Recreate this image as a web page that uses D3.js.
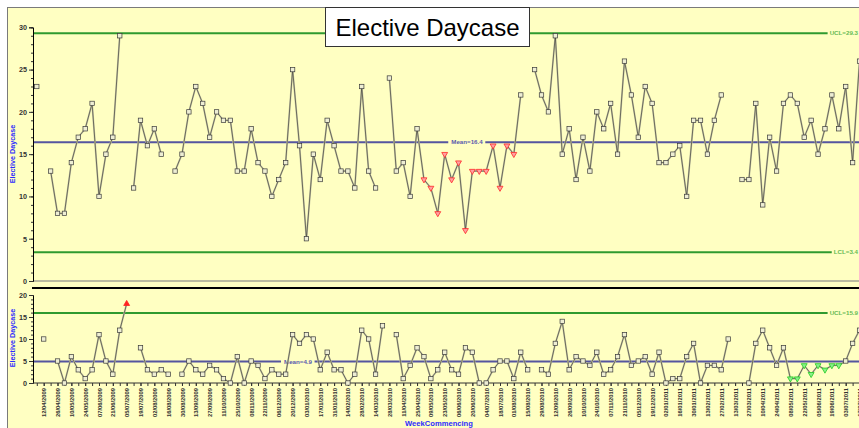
<!DOCTYPE html>
<html>
<head>
<meta charset="utf-8">
<script src="https://cdn.jsdelivr.net/npm/d3@7.9.0/dist/d3.min.js"></script>
<style>
  body { margin: 0; background: #fff; }
  svg { display: block; font-family: "Liberation Sans", Arial, sans-serif; }
</style>
</head>
<body>
<svg id="chart" width="859" height="428"></svg>
<script>
// weeks run from -1 (one week before the first label) to 118
const firstWeek = -1;

// weekly elective daycase counts (null = no data that week)
const dayCases = [23, null, 13, 8, 8, 14, 17, 18, 21, 10, 15, 17, 29, null, 11, 19, 16, 18, 15, null,
  13, 15, 20, 23, 21, 17, 20, 19, 19, 13, 13, 18, 14, 13, 10, 12, 14, 25, 16, 5,
  15, 12, 19, 16, 13, 13, 11, 23, 13, 11, null, 24, 13, 14, 10, 18, 12, 11, 8, 15,
  12, 14, 6, 13, 13, 13, 16, 11, 16, 15, 22, null, 25, 22, 20, 29, 15, 18, 12, 17,
  13, 20, 18, 21, 15, 26, 22, 17, 23, 21, 14, 14, 15, 16, 10, 19, 19, 15, 19, 22,
  null, null, 12, 12, 21, 9, 17, 13, 21, 22, 21, 17, 19, 15, 18, 22, 18, 23, 14, 26];

// moving range chart
const movingRange = [null, 10, null, 5, 0, 6, 3, 1, 3, 11, 5, 2, 12, 18, null, 8, 3, 2, 3, 2,
  null, 2, 5, 3, 2, 4, 3, 1, 0, 6, 0, 5, 4, 1, 3, 2, 2, 11, 9, 11,
  10, 3, 7, 3, 3, 0, 2, 12, 10, 2, 13, null, 11, 1, 4, 8, 6, 1, 3, 7,
  3, 2, 8, 7, 0, 0, 3, 5, 5, 1, 7, 3, null, 3, 2, 9, 14, 3, 6, 5,
  4, 7, 2, 3, 6, 11, 4, 5, 6, 2, 7, 0, 1, 1, 6, 9, 0, 4, 4, 3,
  10, null, null, 0, 9, 12, 8, 4, 8, 1, 1, 4, 2, 4, 3, 4, 4, 5, 9, 12];

// control limits
const topLimits = { mean: 16.4, ucl: 29.3, lcl: 3.4 };
const bottomLimits = { mean: 4.9, ucl: 15.9 };

// flagged weeks
const topRunBelow = [55, 68];      // run below mean (red)
const bottomAboveUcl = [12];       // above UCL (red)
const bottomRunBelow = [108, 115]; // run below mean (green)

// tick labels every second week, starting at week 0
const weekLabels = ["12/04/2009", "26/04/2009", "10/05/2009", "24/05/2009", "07/06/2009", "21/06/2009",
  "05/07/2009", "19/07/2009", "02/08/2009", "16/08/2009", "30/08/2009", "13/09/2009", "27/09/2009",
  "11/10/2009", "25/10/2009", "08/11/2009", "22/11/2009", "06/12/2009", "20/12/2009", "03/01/2010",
  "17/01/2010", "31/01/2010", "14/02/2010", "28/02/2010", "14/03/2010", "28/03/2010", "11/04/2010",
  "25/04/2010", "09/05/2010", "23/05/2010", "06/06/2010", "20/06/2010", "04/07/2010", "18/07/2010",
  "01/08/2010", "15/08/2010", "29/08/2010", "12/09/2010", "26/09/2010", "10/10/2010", "24/10/2010",
  "07/11/2010", "21/11/2010", "05/12/2010", "19/12/2010", "02/01/2011", "16/01/2011", "30/01/2011",
  "13/02/2011", "27/02/2011", "13/03/2011", "27/03/2011", "10/04/2011", "24/04/2011", "08/05/2011",
  "22/05/2011", "05/06/2011", "19/06/2011", "03/07/2011", "17/07/2011"];

const svg = d3.select("#chart");
const W = 859;
const plotLeft = 33;

// frame
svg.append("rect").attr("x", 7.5).attr("y", 7.5).attr("width", 900).attr("height", 500)
  .attr("fill", "#ffffc2").attr("stroke", "#7a7a7a");

const x = d3.scaleLinear().domain([0, 116]).range([43.7, 845.7]);
const yTop = d3.scaleLinear().domain([0, 30]).range([281, 27.3]);
const yBot = d3.scaleLinear().domain([0, 20]).range([383, 295]);

const toPoints = arr => arr.map((v, i) => ({ week: i + firstWeek, v }));
const topData = toPoints(dayCases);
const botData = toPoints(movingRange);

function yAxis(scale, majors, maxV) {
  const g = svg.append("g").attr("transform", `translate(${plotLeft},0)`);
  g.append("g").call(d3.axisLeft(scale).tickValues(d3.range(0, maxV + 1)).tickSize(2).tickFormat(""))
    .call(s => s.select(".domain").remove());
  g.append("g").call(d3.axisLeft(scale).tickValues(majors).tickSize(4).tickPadding(2))
    .call(s => s.select(".domain").attr("stroke", "#000"));
  g.selectAll("line").attr("stroke", "#333");
  g.selectAll("text").attr("font-size", 7.2).attr("font-weight", "bold").attr("fill", "#333")
    .attr("font-family", "Liberation Sans, Arial, sans-serif");
}

function limitLine(yv, scale, color, textColor, label, labelX, anchor) {
  const yy = scale(yv);
  const t = svg.append("text").attr("x", labelX).attr("y", yy).attr("dy", "0.35em")
    .attr("text-anchor", anchor).attr("font-size", 6.2).attr("font-weight", "bold")
    .attr("fill", textColor).text(label);
  const bb = t.node().getBBox();
  const segs = anchor === "end"
    ? [[plotLeft, bb.x - 2]]
    : [[plotLeft, bb.x - 3], [bb.x + bb.width + 2, W + 20]];
  segs.forEach(([a, b]) => {
    svg.insert("line", "text").attr("x1", a).attr("x2", b).attr("y1", yy).attr("y2", yy)
      .attr("stroke", color).attr("stroke-width", 2);
  });
}

function series(data, scale) {
  const line = d3.line().defined(d => d.v != null).x(d => x(d.week)).y(d => scale(d.v));
  svg.append("path").datum(data).attr("d", line).attr("fill", "none")
    .attr("stroke", "#c9c9a6").attr("stroke-width", 1.8);
  svg.append("path").datum(data).attr("d", line).attr("fill", "none")
    .attr("stroke", "#2a2a2a").attr("stroke-width", 0.6);
}

function markers(data, scale, flagFn) {
  const pts = data.filter(d => d.v != null);
  pts.forEach(d => {
    const f = flagFn(d.week);
    const px = x(d.week), py = scale(d.v);
    if (!f) {
      svg.append("rect").attr("x", px - 2.2).attr("y", py - 2.2).attr("width", 4.4).attr("height", 4.4)
        .attr("fill", "#eeeed4").attr("stroke", "#3a3a3a").attr("stroke-width", 0.7);
    } else {
      svg.append("path").attr("d", d3.symbol(d3.symbolTriangle).size(15)())
        .attr("transform", `translate(${px},${py}) rotate(${f.up ? 0 : 180})`)
        .attr("fill", f.fill).attr("stroke", f.stroke).attr("stroke-width", 0.8);
    }
  });
}

// ---- top chart ----
svg.append("line").attr("x1", plotLeft).attr("x2", W).attr("y1", 281).attr("y2", 281)
  .attr("stroke", "#bcbca0").attr("stroke-width", 2);
svg.append("line").attr("x1", plotLeft - 1).attr("x2", W).attr("y1", 288).attr("y2", 288)
  .attr("stroke", "#000").attr("stroke-width", 2);
limitLine(topLimits.ucl, yTop, "#2f9a2f", "#66bb55", "UCL=" + topLimits.ucl, 858, "end");
limitLine(topLimits.lcl, yTop, "#2f9a2f", "#66bb55", "LCL=" + topLimits.lcl, 858, "end");
limitLine(topLimits.mean, yTop, "#55559f", "#5a5aae", "Mean=" + topLimits.mean, 467, "middle");
yAxis(yTop, d3.range(0, 31, 5), 30);
series(topData, yTop);
markers(topData, yTop, w => (w >= topRunBelow[0] && w <= topRunBelow[1])
  ? { up: false, fill: "#ffa0a0", stroke: "#ff2a2a" } : null);

// ---- bottom chart ----
limitLine(bottomLimits.ucl, yBot, "#2f9a2f", "#66bb55", "UCL=" + bottomLimits.ucl, 858, "end");
limitLine(bottomLimits.mean, yBot, "#55559f", "#5a5aae", "Mean=" + bottomLimits.mean, 298, "middle");
yAxis(yBot, d3.range(0, 21, 5), 20);

const xg = svg.append("g").attr("transform", "translate(0,383)");
xg.append("g").call(d3.axisBottom(x).tickValues(d3.range(-1, 120)).tickSize(3).tickFormat(""))
  .call(s => s.select(".domain").remove());
xg.append("line").attr("x1", plotLeft).attr("x2", W).attr("stroke", "#000");
xg.append("g").call(d3.axisBottom(x).tickValues(weekLabels.map((_, i) => i * 2)).tickSize(3)
    .tickFormat((_, i) => weekLabels[i]))
  .call(s => s.select(".domain").remove())
  .selectAll("text")
  .attr("transform", "rotate(-90)").attr("text-anchor", "end")
  .attr("x", -5).attr("y", 0).attr("dy", "0.35em")
  .attr("font-size", 5.8).attr("font-weight", "bold").attr("fill", "#333")
  .attr("font-family", "Liberation Sans, Arial, sans-serif");
xg.selectAll("line").attr("stroke", "#333");

series(botData, yBot);
markers(botData, yBot, w => {
  if (bottomAboveUcl.includes(w)) return { up: true, fill: "#ff2222", stroke: "#ff2222" };
  if (w >= bottomRunBelow[0] && w <= bottomRunBelow[1]) return { up: false, fill: "#8aee8a", stroke: "#22cc22" };
  return null;
});

// axis titles
svg.append("text").attr("transform", "translate(15,154) rotate(-90)").attr("text-anchor", "middle")
  .attr("font-size", 7.2).attr("font-weight", "bold").attr("fill", "#2b2bff").text("Elective Daycase");
svg.append("text").attr("transform", "translate(15,338) rotate(-90)").attr("text-anchor", "middle")
  .attr("font-size", 7.2).attr("font-weight", "bold").attr("fill", "#2b2bff").text("Elective Daycase");
svg.append("text").attr("x", 439).attr("y", 426).attr("text-anchor", "middle")
  .attr("font-size", 7.6).attr("font-weight", "bold").attr("fill", "#2b2bff").text("WeekCommencing");

// title box
svg.append("rect").attr("x", 325.5).attr("y", 7.5).attr("width", 204).attr("height", 39)
  .attr("fill", "#fff").attr("stroke", "#333");
svg.append("text").attr("x", 427.5).attr("y", 35.5).attr("text-anchor", "middle")
  .attr("font-size", 24).attr("fill", "#000").text("Elective Daycase");
</script>
</body>
</html>
